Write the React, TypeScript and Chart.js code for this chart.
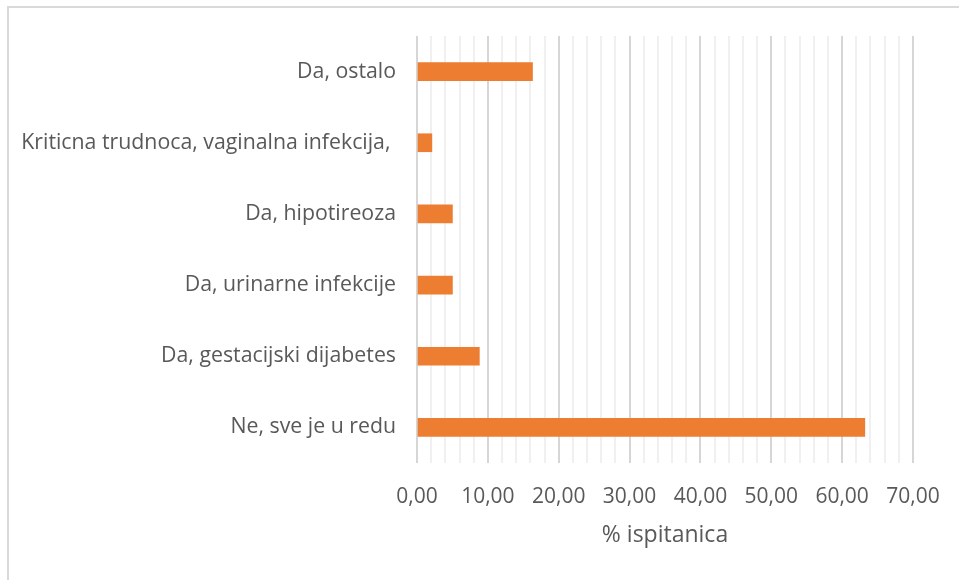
import React, { useEffect, useRef } from 'react';
import { Chart, registerables } from 'chart.js';

Chart.register(...registerables);

const categories = [
  'Da, ostalo',
  'Kriticna trudnoca, vaginalna infekcija, ',
  'Da, hipotireoza',
  'Da, urinarne infekcije',
  'Da, gestacijski dijabetes',
  'Ne, sve je u redu',
];
const values = [16.3, 2.1, 5.0, 5.0, 8.8, 63.2];
const xMin = 0;
const xMax = 70;
const minorStep = 2;
const majorStep = 10;
const axisTitle = '% ispitanica';

const FONT = "'Open Sans', sans-serif";
const TEXT = '#595959';

const frame = {
  id: 'frame',
  beforeDraw(chart: any) {
    const ctx = chart.ctx;
    ctx.save();
    ctx.fillStyle = '#ffffff';
    ctx.fillRect(0, 0, chart.width, chart.height);
    ctx.strokeStyle = '#d9d9d9';
    ctx.lineWidth = 2;
    ctx.beginPath();
    ctx.moveTo(8, chart.height);
    ctx.lineTo(8, 7);
    ctx.lineTo(chart.width, 7);
    ctx.stroke();
    ctx.restore();
  },
};

export default function App() {
  const ref = useRef<HTMLCanvasElement>(null);
  useEffect(() => {
    if (!ref.current) return;
    const chart = new Chart(ref.current, {
      type: 'bar',
      data: {
        labels: categories,
        datasets: [
          {
            data: values,
            backgroundColor: '#ED7D31',
            borderWidth: 0,
            barThickness: 18,
          },
        ],
      },
      options: {
        indexAxis: 'y',
        animation: false,
        responsive: false,
        layout: { padding: { left: 0, top: 36, right: 46, bottom: 0 } },
        plugins: { legend: { display: false }, tooltip: { enabled: false } },
        scales: {
          x: {
            min: xMin,
            max: xMax,
            border: { display: false },
            grid: {
              drawTicks: false,
              color: (c: any) => (c.tick && c.tick.value % majorStep === 0 ? '#d6d6d6' : '#f0f0f0'),
              lineWidth: 2,
            },
            ticks: {
              stepSize: minorStep,
              autoSkip: false,
              maxRotation: 0,
              padding: 21,
              color: TEXT,
              font: { family: FONT, size: 21 },
              callback: (v: any) => (Number(v) % majorStep === 0 ? Number(v).toFixed(2).replace('.', ',') : ''),
            },
            title: {
              display: true,
              text: axisTitle,
              color: TEXT,
              font: { family: FONT, size: 23 },
              padding: { top: 0, bottom: 31 },
            },
            afterFit: (s: any) => {
              s.height = 117;
              s.paddingLeft = 0;
              s.paddingRight = 0;
            },
          },
          y: {
            border: { display: false },
            grid: { display: false, drawTicks: false },
            ticks: {
              padding: 21,
              color: TEXT,
              font: { family: FONT, size: 21.3 },
            },
            afterFit: (s: any) => {
              s.width = 417;
            },
          },
        },
      },
      plugins: [frame],
    });
    return () => chart.destroy();
  }, []);
  return (
    <div style={{ position: 'fixed', left: 0, top: 0, width: 959, height: 580 }}>
      <canvas ref={ref} width={959} height={580} />
    </div>
  );
}
